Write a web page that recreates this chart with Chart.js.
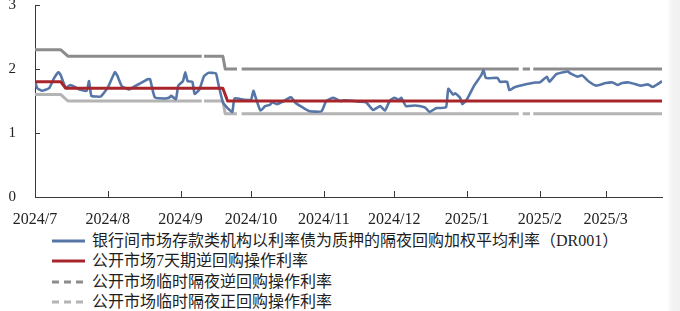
<!DOCTYPE html>
<html>
<head>
<meta charset="utf-8">
<script src="https://cdn.jsdelivr.net/npm/chart.js@4"></script>
<style>
  html, body { margin: 0; padding: 0; }
  body { width: 680px; height: 311px; background: linear-gradient(to right, #fff 0, #fff 667px, #f3f3f3 672px, #f1f1f1 680px); overflow: hidden; position: relative; }
  #wrap { position: absolute; left: 0; top: 0; width: 680px; height: 225px; }
  #legend { position: absolute; left: 52px; top: 230.5px; font-family: "Liberation Serif", "Noto Sans CJK SC", serif; font-size: 16px; color: #1e1e1e; }
  .row { height: 20.5px; line-height: 20.5px; white-space: nowrap; display: flex; align-items: center; }
  .row svg { margin-right: 7px; }
</style>
</head>
<body>
<div id="wrap"><canvas id="c" width="680" height="225"></canvas></div>
<div id="legend"></div>
<script>
// days since 2024-07-01
const days = [0, 1, 3, 6, 8, 10, 11, 13, 15, 17, 19, 22, 23, 24, 26, 28, 31, 34, 35, 37, 40, 42, 45, 48, 49, 51,
  55, 57, 58, 60, 61, 63, 64, 65, 67, 68, 70, 72, 74, 77, 78, 80, 82, 84, 85, 89, 92, 93, 94, 96, 98, 100, 101,
  103, 106, 109, 111, 114, 117, 122, 124, 127, 130, 132, 136, 138, 141, 144, 147, 149, 151, 153, 155, 156, 158,
  162, 166, 168, 171, 175, 176, 178, 179, 181, 182, 184, 187, 190, 191, 192, 197, 198, 201, 202, 204, 209, 213,
  215, 218, 219, 222, 225, 227, 228, 231, 233, 236, 239, 243, 246, 248, 250, 253, 256, 258, 261, 263, 265, 267];
const dr001 = [1.81, 1.70, 1.66, 1.70, 1.85, 1.95, 1.90, 1.71, 1.75, 1.72, 1.68, 1.66, 1.81, 1.58, 1.57, 1.57, 1.71,
  1.95, 1.90, 1.73, 1.68, 1.72, 1.78, 1.84, 1.84, 1.56, 1.54, 1.55, 1.58, 1.53, 1.74, 1.81, 1.95, 1.81, 1.80, 1.61,
  1.68, 1.89, 1.94, 1.93, 1.78, 1.48, 1.39, 1.33, 1.54, 1.52, 1.52, 1.66, 1.55, 1.35, 1.42, 1.44, 1.48, 1.45, 1.50,
  1.56, 1.47, 1.40, 1.34, 1.34, 1.50, 1.55, 1.50, 1.51, 1.50, 1.49, 1.48, 1.36, 1.42, 1.35, 1.50, 1.55, 1.52, 1.55,
  1.42, 1.43, 1.40, 1.33, 1.39, 1.40, 1.69, 1.60, 1.62, 1.55, 1.45, 1.53, 1.74, 1.90, 1.98, 1.86, 1.86, 1.80, 1.80,
  1.67, 1.71, 1.76, 1.79, 1.79, 1.88, 1.80, 1.92, 1.95, 1.96, 1.93, 1.88, 1.90, 1.80, 1.74, 1.78, 1.79, 1.75, 1.78,
  1.79, 1.76, 1.74, 1.76, 1.72, 1.76, 1.81];

const days7d = [0, 11, 13, 80, 82, 267];
const rate7d = [1.8, 1.8, 1.7, 1.7, 1.5, 1.5];

// overnight operations (null = no quote)
const daysON = [0, 11, 14, 71, 71.5, 72, 80, 81, 86, 87, 88, 206, 207, 207.7, 210.8, 211.5, 212.2, 267];
const onReverse = [2.3, 2.3, 2.2, 2.2, null, 2.2, 2.2, 2.0, 2.0, null, 2.0, 2.0, null, 2.0, 2.0, null, 2.0, 2.0];
const onForward = [1.6, 1.6, 1.5, 1.5, null, 1.5, 1.5, 1.3, 1.3, null, 1.3, 1.3, null, 1.3, 1.3, null, 1.3, 1.3];

const monthDays = [0, 31, 62, 92, 123, 153, 184, 215, 243];
const monthLabels = ['2024/7', '2024/8', '2024/9', '2024/10', '2024/11', '2024/12', '2025/1', '2025/2', '2025/3'];
const yTicks = [0, 1, 2, 3];

const labels = [
  '银行间市场存款类机构以利率债为质押的隔夜回购加权平均利率（DR001）',
  '公开市场7天期逆回购操作利率',
  '公开市场临时隔夜逆回购操作利率',
  '公开市场临时隔夜正回购操作利率',
];

const pts = (xs, ys) => xs.map((x, i) => ({ x, y: ys[i] }));
const axisColor = '#3a3a3a';
const serif = '"Liberation Serif", serif';

// inward tick marks
const innerTicks = {
  id: 'innerTicks',
  afterDraw(chart) {
    const { ctx, scales: { x, y }, chartArea } = chart;
    ctx.save();
    ctx.strokeStyle = axisColor;
    ctx.lineWidth = 1;
    ctx.beginPath();
    x.ticks.forEach((t) => {
      const px = Math.round(x.getPixelForValue(t.value)) + 0.5;
      ctx.moveTo(px, chartArea.bottom);
      ctx.lineTo(px, chartArea.bottom - 6);
    });
    y.ticks.forEach((t) => {
      const py = Math.round(y.getPixelForValue(t.value)) + 0.5;
      ctx.moveTo(chartArea.left, py);
      ctx.lineTo(chartArea.left + 5, py);
    });
    ctx.stroke();
    ctx.restore();
  },
};

const chart = new Chart(document.getElementById('c'), {
  type: 'line',
  data: {
    datasets: [
      { label: labels[0], data: pts(days, dr001), borderColor: '#5676a8', borderWidth: 2.6, tension: 0.15, order: 1 },
      { label: labels[1], data: pts(days7d, rate7d), borderColor: '#a8262b', borderWidth: 3, order: 0 },
      { label: labels[2], data: pts(daysON, onReverse), borderColor: '#8c8c8c', borderWidth: 3, legendDash: [7, 5], order: 2 },
      { label: labels[3], data: pts(daysON, onForward), borderColor: '#b4b4b4', borderWidth: 3, legendDash: [7, 5], order: 3 },
    ],
  },
  options: {
    responsive: false,
    animation: false,
    spanGaps: false,
    elements: { point: { radius: 0 }, line: { borderJoinStyle: 'round', borderCapStyle: 'butt' } },
    layout: { padding: { top: 5, right: 18, left: 0, bottom: 0 } },
    plugins: { legend: { display: false }, tooltip: { enabled: false } },
    scales: {
      x: {
        type: 'linear',
        min: 0,
        max: 267,
        grid: { display: false },
        border: { display: true, color: axisColor, width: 1 },
        afterBuildTicks: (s) => { s.ticks = monthDays.map((v) => ({ value: v })); },
        afterFit: (s) => { s.height = 28; },
        ticks: {
          autoSkip: false,
          maxRotation: 0,
          padding: 5,
          color: '#222',
          font: { family: serif, size: 16 },
          callback: (v) => monthLabels[monthDays.indexOf(v)],
        },
      },
      y: {
        min: 0,
        max: 3,
        grid: { display: false },
        border: { display: true, color: axisColor, width: 1 },
        afterBuildTicks: (s) => { s.ticks = yTicks.map((v) => ({ value: v })); },
        afterFit: (s) => { s.width = 35; s.paddingTop = 0; s.paddingBottom = 0; },
        ticks: { padding: 11, color: '#222', font: { family: serif, size: 15 } },
      },
    },
  },
  plugins: [innerTicks],
});

// Legend, one row per dataset
const legend = document.getElementById('legend');
chart.data.datasets.forEach((ds) => {
  const row = document.createElement('div');
  row.className = 'row';
  const dash = ds.legendDash ? `stroke-dasharray="${ds.legendDash.join(' ')}"` : '';
  row.innerHTML = `<svg width="33" height="6"><line x1="0" y1="3" x2="33" y2="3" stroke="${ds.borderColor}" stroke-width="3" ${dash}/></svg><span>${ds.label}</span>`;
  legend.appendChild(row);
});
</script>
</body>
</html>
